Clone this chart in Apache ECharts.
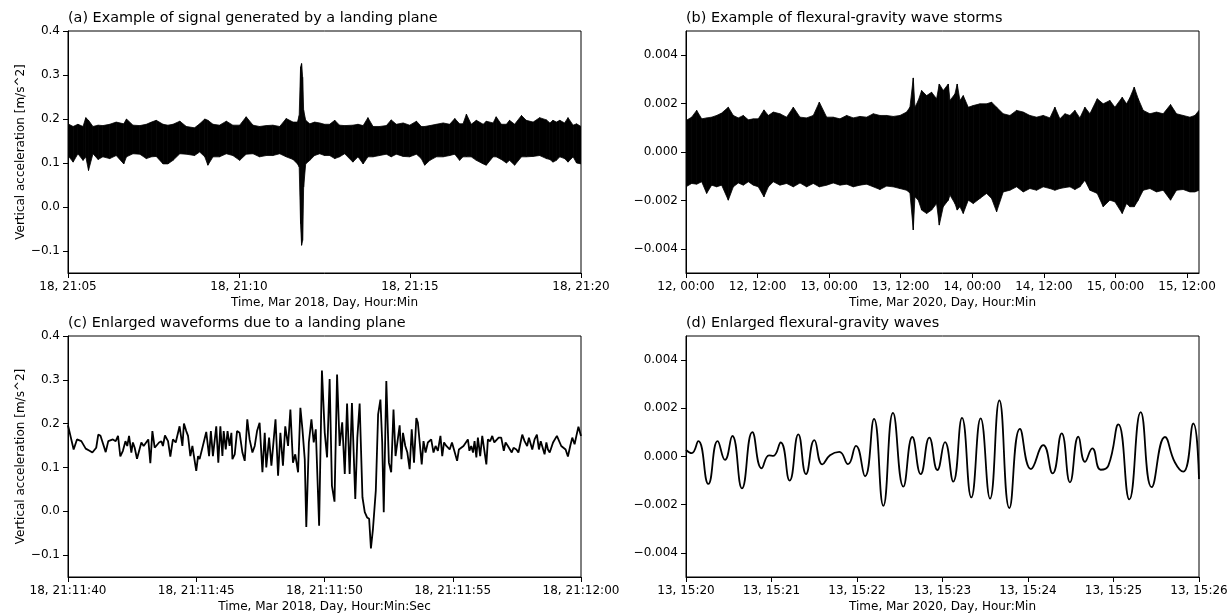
<!DOCTYPE html>
<html>
<head>
<meta charset="utf-8">
<script src="https://cdn.jsdelivr.net/npm/echarts@6/dist/echarts.min.js"></script>
<style>
html, body { margin: 0; padding: 0; background: #fff; }
#chart { width: 1231px; height: 614px; }
</style>
</head>
<body>
<div id="chart"></div>
<script>
// (a) landing plane, minutes after 21:05 — envelope of the dense trace
var timeA = [0.00,0.15,0.29,0.44,0.52,0.60,0.73,0.88,1.02,1.22,
  1.41,1.63,1.71,1.90,2.10,2.29,2.44,2.58,2.78,2.92,
  3.07,3.27,3.46,3.70,3.85,4.00,4.09,4.24,4.43,4.63,
  4.82,5.02,5.21,5.41,5.60,5.80,5.99,6.19,6.38,6.58,
  6.71,6.76,6.80,6.83,6.86,6.89,6.95,7.07,7.21,7.36,
  7.50,7.65,7.80,7.94,8.09,8.33,8.48,8.63,8.77,8.92,
  9.11,9.31,9.45,9.60,9.80,9.99,10.19,10.33,10.43,10.58,
  10.77,10.97,11.16,11.31,11.45,11.55,11.65,11.79,11.94,12.14,
  12.23,12.43,12.52,12.67,12.82,12.91,13.06,13.26,13.40,13.60,
  13.79,13.99,14.09,14.18,14.28,14.38,14.52,14.62,14.77,14.87,15.00];
var upperA = [0.189,0.183,0.188,0.183,0.203,0.197,0.183,0.186,0.185,0.188,
  0.193,0.189,0.200,0.186,0.185,0.188,0.193,0.197,0.188,0.186,
  0.188,0.195,0.183,0.180,0.189,0.200,0.197,0.188,0.186,0.195,
  0.186,0.186,0.205,0.186,0.183,0.185,0.186,0.183,0.201,0.193,
  0.193,0.208,0.318,0.326,0.295,0.220,0.197,0.189,0.193,0.191,
  0.188,0.188,0.197,0.186,0.185,0.186,0.188,0.185,0.203,0.183,
  0.183,0.185,0.198,0.188,0.191,0.186,0.195,0.183,0.183,0.185,
  0.188,0.191,0.188,0.201,0.189,0.189,0.211,0.188,0.197,0.188,
  0.195,0.191,0.205,0.188,0.188,0.197,0.188,0.208,0.197,0.193,
  0.203,0.198,0.191,0.197,0.193,0.197,0.191,0.203,0.186,0.189,0.183];
var lowerA = [0.117,0.102,0.121,0.106,0.114,0.083,0.121,0.108,0.114,0.110,
  0.117,0.098,0.114,0.121,0.120,0.110,0.114,0.115,0.098,0.098,
  0.106,0.121,0.120,0.117,0.125,0.114,0.095,0.114,0.114,0.121,
  0.117,0.106,0.120,0.121,0.114,0.117,0.117,0.121,0.114,0.108,
  0.098,0.091,-0.038,-0.087,-0.076,0.045,0.098,0.106,0.117,0.121,
  0.117,0.117,0.110,0.114,0.121,0.102,0.114,0.098,0.114,0.114,
  0.117,0.120,0.114,0.120,0.115,0.114,0.120,0.110,0.095,0.106,
  0.114,0.114,0.117,0.120,0.106,0.114,0.114,0.114,0.106,0.098,
  0.095,0.114,0.114,0.108,0.100,0.106,0.095,0.114,0.114,0.115,
  0.117,0.110,0.108,0.102,0.106,0.114,0.110,0.102,0.114,0.100,0.098];

// (b) wave storms, hours after 12, 00:00 — envelope of the dense trace
var timeB = [0,0.95,1.79,2.63,3.46,4.30,5.14,5.98,7.09,7.93,
  8.77,9.61,10.45,11.28,12.12,13.07,13.80,14.64,15.75,16.87,
  17.99,19.11,20.22,21.34,22.35,23.58,24.69,25.81,26.93,28.04,
  29.16,30.28,31.40,32.51,33.63,34.75,35.87,36.98,37.54,38.10,
  38.38,38.94,39.50,40.34,41.17,42.01,42.46,43.13,43.97,44.25,
  45.08,45.47,45.92,46.48,47.32,48.16,49.27,50.39,51.23,52.07,
  53.18,54.30,55.42,56.54,57.65,58.77,59.89,61.01,61.84,62.68,
  63.52,64.36,65.19,66.03,66.87,67.71,68.94,69.94,71.06,71.90,
  73.13,73.85,74.41,75.14,75.81,76.65,77.77,78.88,80.00,81.23,
  82.23,83.35,84.47,85.31,86.00];
var upperB = [1.30e-3,1.44e-3,1.72e-3,1.37e-3,1.41e-3,1.44e-3,1.51e-3,1.61e-3,1.85e-3,1.51e-3,
  1.41e-3,1.51e-3,1.33e-3,1.37e-3,1.37e-3,1.74e-3,1.51e-3,1.65e-3,1.58e-3,1.44e-3,
  1.85e-3,1.44e-3,1.41e-3,1.51e-3,2.06e-3,1.44e-3,1.44e-3,1.37e-3,1.51e-3,1.41e-3,
  1.47e-3,1.44e-3,1.58e-3,1.51e-3,1.51e-3,1.47e-3,1.51e-3,1.65e-3,1.85e-3,3.06e-3,
  1.85e-3,2.13e-3,2.54e-3,2.33e-3,2.47e-3,2.20e-3,2.81e-3,2.54e-3,2.81e-3,2.13e-3,
  2.40e-3,2.81e-3,2.13e-3,2.33e-3,1.85e-3,1.92e-3,1.99e-3,1.99e-3,2.06e-3,1.85e-3,
  1.58e-3,1.51e-3,1.72e-3,1.65e-3,1.51e-3,1.44e-3,1.51e-3,1.41e-3,1.85e-3,1.37e-3,
  1.58e-3,1.51e-3,1.72e-3,1.41e-3,1.85e-3,1.58e-3,2.20e-3,1.99e-3,2.13e-3,1.85e-3,
  2.26e-3,1.99e-3,2.24e-3,2.68e-3,2.20e-3,1.72e-3,1.58e-3,1.65e-3,1.58e-3,1.96e-3,
  1.58e-3,1.51e-3,1.44e-3,1.51e-3,1.72e-3];
var lowerB = [-1.44e-3,-1.30e-3,-1.33e-3,-1.23e-3,-1.71e-3,-1.37e-3,-1.44e-3,-1.37e-3,-1.99e-3,-1.44e-3,
  -1.28e-3,-1.37e-3,-1.23e-3,-1.37e-3,-1.44e-3,-1.85e-3,-1.44e-3,-1.23e-3,-1.37e-3,-1.30e-3,
  -1.44e-3,-1.28e-3,-1.44e-3,-1.30e-3,-1.44e-3,-1.37e-3,-1.28e-3,-1.37e-3,-1.33e-3,-1.44e-3,
  -1.37e-3,-1.33e-3,-1.44e-3,-1.55e-3,-1.41e-3,-1.44e-3,-1.51e-3,-1.58e-3,-1.69e-3,-3.22e-3,
  -1.85e-3,-1.99e-3,-2.40e-3,-2.54e-3,-2.40e-3,-2.13e-3,-3.02e-3,-2.26e-3,-1.99e-3,-1.78e-3,
  -2.13e-3,-2.40e-3,-2.26e-3,-2.54e-3,-1.99e-3,-2.13e-3,-1.92e-3,-1.71e-3,-1.92e-3,-2.47e-3,
  -1.65e-3,-1.58e-3,-1.44e-3,-1.65e-3,-1.51e-3,-1.58e-3,-1.44e-3,-1.51e-3,-1.58e-3,-1.51e-3,
  -1.47e-3,-1.44e-3,-1.55e-3,-1.44e-3,-1.17e-3,-1.58e-3,-1.71e-3,-2.26e-3,-1.99e-3,-2.06e-3,
  -2.54e-3,-2.13e-3,-2.26e-3,-2.26e-3,-1.99e-3,-1.58e-3,-1.51e-3,-1.65e-3,-1.58e-3,-1.99e-3,
  -1.58e-3,-1.55e-3,-1.65e-3,-1.65e-3,-1.58e-3];

// (c) enlarged landing plane, seconds after 21:11:40
var timeC = [0.00,0.22,0.35,0.52,0.69,0.84,0.95,1.10,1.18,1.27,
  1.47,1.57,1.75,1.86,1.95,2.04,2.14,2.24,2.31,2.38,
  2.47,2.53,2.60,2.69,2.86,2.95,3.13,3.21,3.29,3.38,
  3.55,3.64,3.70,3.78,3.90,3.99,4.09,4.20,4.35,4.46,
  4.52,4.61,4.68,4.77,4.85,4.91,5.00,5.07,5.13,5.29,
  5.39,5.50,5.57,5.65,5.78,5.86,5.94,6.02,6.07,6.15,
  6.22,6.30,6.37,
  6.41,6.50,6.59,6.69,6.80,6.89,6.99,7.08,7.19,7.28,
  7.37,7.47,7.58,7.67,7.73,7.84,7.93,8.02,8.09,8.19,
  8.28,8.38,8.47,8.58,8.67,8.77,8.86,8.97,9.06,9.14,
  9.23,9.29,9.39,9.49,9.58,9.66,9.71,9.79,9.90,10.01,
  10.10,10.20,10.29,10.39,10.49,10.59,10.69,10.79,10.88,10.98,
  11.07,11.20,11.28,11.37,11.48,11.57,11.66,11.74,11.81,11.89,
  12.00,12.09,12.18,12.25,12.31,12.41,12.51,12.60,12.69,12.77,
  12.93,13.00,13.06,13.15,13.23,13.32,13.40,13.49,13.58,13.64,
  13.79,13.86,13.94,14.03,
  14.16,14.25,14.33,14.42,14.52,14.59,14.66,14.75,14.81,14.88,
  14.97,15.08,15.17,15.24,15.42,15.59,15.65,15.72,15.79,15.85,
  15.92,15.98,16.07,16.15,16.31,16.37,16.46,16.54,16.62,16.79,
  16.89,16.99,17.06,17.15,17.30,17.37,17.48,17.56,17.71,17.80,
  17.90,17.97,18.10,18.19,18.28,18.36,18.43,18.58,18.65,18.71,
  18.78,18.91,19.06,19.23,19.40,19.49,19.58,19.66,19.75,19.82,
  19.90,20.00];
var valueC = [0.196,0.141,0.164,0.160,0.143,0.138,0.134,0.145,0.175,0.172,
  0.135,0.160,0.164,0.160,0.172,0.125,0.138,0.160,0.149,0.172,
  0.134,0.157,0.145,0.120,0.157,0.149,0.164,0.110,0.183,0.145,
  0.157,0.160,0.149,0.173,0.160,0.125,0.164,0.157,0.194,0.149,
  0.200,0.183,0.172,0.126,0.149,0.126,0.092,0.126,0.119,0.157,
  0.181,0.126,0.183,0.126,0.194,0.111,0.194,0.126,0.183,0.141,
  0.183,0.149,0.179,
  0.119,0.130,0.183,0.179,0.134,0.115,0.210,0.164,0.134,0.149,
  0.183,0.202,0.089,0.179,0.100,0.168,0.104,0.164,0.210,0.081,
  0.179,0.104,0.194,0.149,0.232,0.111,0.130,0.089,0.236,0.187,
  0.119,-0.036,0.157,0.210,0.157,0.187,0.191,-0.033,0.321,0.179,
  0.123,0.302,0.058,0.022,0.312,0.149,0.203,0.085,0.246,0.085,
  0.247,0.028,0.168,0.246,0.032,-0.002,-0.014,-0.017,-0.085,-0.040,
  0.047,0.221,0.255,0.157,-0.002,0.297,0.111,0.089,0.232,0.126,
  0.196,0.119,0.179,0.149,0.134,0.096,0.187,0.111,0.213,0.202,
  0.107,0.160,0.134,0.157,
  0.164,0.134,0.149,0.138,0.172,0.126,0.157,0.149,0.153,0.141,
  0.157,0.134,0.115,0.141,0.149,0.164,0.138,0.149,0.134,0.160,
  0.123,0.168,0.126,0.172,0.107,0.164,0.160,0.172,0.157,0.168,
  0.168,0.138,0.157,0.149,0.134,0.145,0.141,0.134,0.175,0.160,
  0.149,0.168,0.141,0.164,0.175,0.141,0.160,0.130,0.157,0.141,
  0.134,0.157,0.172,0.149,0.141,0.125,0.149,0.168,0.153,0.172,
  0.193,0.172];

// (d) enlarged flexural-gravity waves, minutes after 15:20 (peaks and troughs)
var timeD = [0.000,0.066,0.144,0.261,0.370,0.456,0.542,0.655,0.776,0.885,
  0.971,1.021,1.107,1.212,1.314,1.404,1.501,1.595,1.684,1.793,
  1.895,1.988,2.094,2.199,2.308,2.421,2.542,2.647,2.745,2.846,
  2.940,3.029,3.126,3.228,3.337,3.446,3.556,3.665,3.782,3.906,
  4.035,4.179,4.288,4.394,4.491,4.589,4.667,4.752,4.850,4.940,
  5.057,5.185,5.318,5.446,5.602,5.719,5.817,5.934,6.000];
var valueD = [0.27e-3,0.14e-3,0.64e-3,-1.14e-3,0.64e-3,-0.14e-3,0.85e-3,-1.32e-3,1.01e-3,-0.49e-3,
  0.05e-3,0.03e-3,0.58e-3,-1.00e-3,0.92e-3,-0.73e-3,0.68e-3,-0.33e-3,0.05e-3,0.19e-3,
  -0.32e-3,0.44e-3,-0.82e-3,1.56e-3,-2.05e-3,1.81e-3,-1.25e-3,0.81e-3,-0.73e-3,0.78e-3,
  -0.56e-3,0.60e-3,-1.04e-3,1.60e-3,-1.70e-3,1.58e-3,-1.75e-3,2.33e-3,-2.14e-3,1.15e-3,
  -0.52e-3,0.47e-3,-0.70e-3,0.96e-3,-1.07e-3,0.82e-3,-0.22e-3,0.34e-3,-0.55e-3,-0.38e-3,
  1.33e-3,-1.78e-3,1.84e-3,-1.27e-3,0.81e-3,-0.25e-3,-0.63e-3,1.37e-3,-0.93e-3];

// ticks and labels
var xTicksA = [0, 5, 10, 15];
var xLabelsA = ['18, 21:05', '18, 21:10', '18, 21:15', '18, 21:20'];
var xTicksB = [0, 12, 24, 36, 48, 60, 72, 84];
var xLabelsB = ['12, 00:00', '12, 12:00', '13, 00:00', '13, 12:00', '14, 00:00', '14, 12:00', '15, 00:00', '15, 12:00'];
var xTicksC = [0, 5, 10, 15, 20];
var xLabelsC = ['18, 21:11:40', '18, 21:11:45', '18, 21:11:50', '18, 21:11:55', '18, 21:12:00'];
var xTicksD = [0, 1, 2, 3, 4, 5, 6];
var xLabelsD = ['13, 15:20', '13, 15:21', '13, 15:22', '13, 15:23', '13, 15:24', '13, 15:25', '13, 15:26'];
var yTicksAC = [-0.1, 0, 0.1, 0.2, 0.3, 0.4];
var yLabelsAC = ['\u22120.1', '0.0', '0.1', '0.2', '0.3', '0.4'];
var yTicksBD = [-0.004, -0.002, 0, 0.002, 0.004];
var yLabelsBD = ['\u22120.004', '\u22120.002', '0.000', '0.002', '0.004'];

var font = 'DejaVu Sans';

function xAxis(idx, max, ticks, labels, name) {
  return {
    type: 'value', gridIndex: idx, min: 0, max: max,
    name: name, nameLocation: 'middle', nameGap: 24,
    nameTextStyle: { fontSize: 12, color: '#000', fontFamily: font },
    axisLine: { show: true, onZero: false, lineStyle: { color: '#000', width: 1 } },
    axisTick: { show: true, inside: false, length: 5, customValues: ticks, lineStyle: { color: '#000', width: 1 } },
    axisLabel: {
      customValues: ticks, fontSize: 12, color: '#000', fontFamily: font, margin: 8,
      formatter: function (v) { return labels[ticks.indexOf(v)]; }
    },
    splitLine: { show: false }
  };
}

function yAxis(idx, min, max, ticks, labels, name) {
  return {
    type: 'value', gridIndex: idx, min: min, max: max,
    name: name, nameLocation: 'middle', nameGap: 41,
    nameTextStyle: { fontSize: 12, color: '#000', fontFamily: font },
    axisLine: { show: true, onZero: false, lineStyle: { color: '#000', width: 1 } },
    axisTick: { show: true, inside: false, length: 5, customValues: ticks, lineStyle: { color: '#000', width: 1 } },
    axisLabel: {
      customValues: ticks, fontSize: 12, color: '#000', fontFamily: font, margin: 8,
      formatter: function (v) { return labels[ticks.indexOf(v)]; }
    },
    splitLine: { show: false }
  };
}

// dense trace drawn as a filled band between its lower and upper envelope
function renderBand(params, api) {
  var a = api.coord([api.value(0), api.value(2)]);
  var b = api.coord([api.value(0), api.value(3)]);
  var c = api.coord([api.value(1), api.value(5)]);
  var d = api.coord([api.value(1), api.value(4)]);
  return {
    type: 'polygon',
    shape: { points: [a, b, c, d] },
    style: { fill: '#000', stroke: '#000', lineWidth: 0.8 }
  };
}

function band(idx, times, lower, upper) {
  var data = [];
  for (var i = 0; i < times.length - 1; i++) {
    data.push([times[i], times[i + 1], lower[i], upper[i], lower[i + 1], upper[i + 1]]);
  }
  return {
    type: 'custom', xAxisIndex: idx, yAxisIndex: idx, clip: true,
    renderItem: renderBand,
    encode: { x: [0, 1], y: [2, 3, 4, 5] },
    data: data
  };
}

function titleOf(text, left, top) {
  return {
    text: text, left: left, top: top, padding: 0,
    textStyle: { fontSize: 14.4, fontWeight: 'normal', color: '#000', fontFamily: font }
  };
}

var myChart = echarts.init(document.getElementById('chart'));

var gridStyle = { show: true, borderColor: '#000', borderWidth: 1, backgroundColor: 'transparent' };

var option = {
  animation: false,
  textStyle: { fontFamily: font },
  title: [
    titleOf('(a) Example of signal generated by a landing plane', 68, 11),
    titleOf('(b) Example of flexural-gravity wave storms', 686, 11),
    titleOf('(c) Enlarged waveforms due to a landing plane', 68, 316),
    titleOf('(d) Enlarged flexural-gravity waves', 686, 316)
  ],
  grid: [
    Object.assign({ left: 68, top: 31, width: 513, height: 242 }, gridStyle),
    Object.assign({ left: 686, top: 31, width: 513, height: 242 }, gridStyle),
    Object.assign({ left: 68, top: 336, width: 513, height: 243 }, gridStyle),
    Object.assign({ left: 686, top: 336, width: 513, height: 243 }, gridStyle)
  ],
  xAxis: [
    xAxis(0, 15, xTicksA, xLabelsA, 'Time, Mar 2018, Day, Hour:Min'),
    xAxis(1, 86, xTicksB, xLabelsB, 'Time, Mar 2020, Day, Hour:Min'),
    xAxis(2, 20, xTicksC, xLabelsC, 'Time, Mar 2018, Day, Hour:Min:Sec'),
    xAxis(3, 6, xTicksD, xLabelsD, 'Time, Mar 2020, Day, Hour:Min')
  ],
  yAxis: [
    yAxis(0, -0.15, 0.4, yTicksAC, yLabelsAC, 'Vertical acceleration [m/s^2]'),
    yAxis(1, -0.005, 0.005, yTicksBD, yLabelsBD, ''),
    yAxis(2, -0.15, 0.4, yTicksAC, yLabelsAC, 'Vertical acceleration [m/s^2]'),
    yAxis(3, -0.005, 0.005, yTicksBD, yLabelsBD, '')
  ],
  series: [
    band(0, timeA, lowerA, upperA),
    band(1, timeB, lowerB, upperB),
    {
      type: 'line', xAxisIndex: 2, yAxisIndex: 2, symbol: 'none', animation: false,
      lineStyle: { color: '#000', width: 1.8 },
      data: timeC.map(function (t, i) { return [t, valueC[i]]; })
    },
    {
      type: 'line', xAxisIndex: 3, yAxisIndex: 3, symbol: 'none', animation: false,
      smooth: true,
      lineStyle: { color: '#000', width: 1.8 },
      data: timeD.map(function (t, i) { return [t, valueD[i]]; })
    }
  ]
};

myChart.setOption(option);
</script>
</body>
</html>
